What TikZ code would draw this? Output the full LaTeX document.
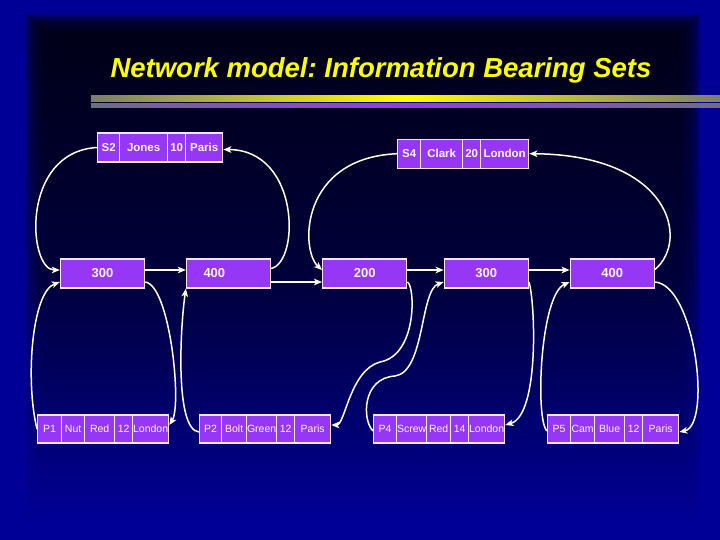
\documentclass[tikz,border=0pt]{standalone}
\usepackage{fontspec}
\setmainfont{Liberation Sans}
\usepackage{xcolor}
\usetikzlibrary{arrows.meta, positioning}

\definecolor{bgblue}{RGB}{0,0,150}
\definecolor{deepnavy}{RGB}{0,0,22}
\definecolor{midnavy}{RGB}{0,0,58}
\definecolor{cellfill}{RGB}{150,55,245}
\definecolor{cellline}{RGB}{255,228,255}
\definecolor{celltext}{RGB}{255,245,255}
\definecolor{linkcol}{RGB}{255,255,228}
\definecolor{titleyellow}{RGB}{255,255,0}
\definecolor{bargray}{RGB}{125,125,112}
\definecolor{barslate}{RGB}{110,110,130}
\definecolor{barviolet}{RGB}{145,60,235}

\tikzset{
  title/.style={anchor=base, text=titleyellow,
    font=\fontsize{27.5}{32}\selectfont\bfseries\itshape\frenchspacing},
  cell/.style={draw=cellline, fill=cellfill, line width=1.3pt, text=celltext,
    inner sep=0pt, anchor=west},
  ownercell/.style={cell, minimum height=29pt,
    font=\fontsize{11.5}{13}\selectfont\bfseries},
  partcell/.style={cell, minimum height=28pt,
    font=\fontsize{10.5}{12}\selectfont},
  setbox/.style={cell, anchor=center, minimum width=84pt, minimum height=29pt,
    font=\fontsize{13}{15}\selectfont\bfseries},
  link/.style={draw=linkcol, line width=1.5pt,
    -{Stealth[length=8pt, width=6.5pt, inset=2pt]}}
}

\begin{document}
\begin{tikzpicture}[x=1pt, y=-1pt]
  \useasboundingbox (0,0) rectangle (720,540);

  % ---- backdrop: blue frame, dark panel fading down ----
  \fill[bgblue] (0,0) rectangle (720,540);
  \foreach \d in {0,...,11}
    \shade[top color=deepnavy, bottom color=bgblue, middle color=midnavy,
           opacity=0.25]
      (25+2*\d,15+2*\d) rectangle (700-2*\d,525);

  % ---- heading and rule ----
  \node[title] (head) at (381,78) {Network model: Information Bearing Sets};
  \shade[left color=bargray, right color=bargray, middle color=titleyellow]
    (91,96) rectangle (720,101.5);
  \shade[left color=barslate, right color=barslate, middle color=barviolet]
    (91,104) rectangle (720,108);

  % ---- owner records (suppliers) ----
  \foreach \x/\w/\t [count=\i] in {97/22/S2, 119/48/Jones, 167/18/10, 185/37/Paris}
    \node[ownercell, minimum width=\w] (s2-\i) at (\x,147.5) {\t};
  \foreach \x/\w/\t [count=\i] in {397/23/S4, 420/42/Clark, 462/18/20, 480/48/London}
    \node[ownercell, minimum width=\w] (s4-\i) at (\x,153.7) {\t};

  % ---- set members (quantities) ----
  \node[setbox] (s2p1) at (102.5,273.5) {300};
  \node[setbox, text width=50pt, inner xsep=17pt, align=left] (s2p2) at (228.5,273.5) {400};
  \node[setbox] (s4p2) at (364.7,273.5) {200};
  \node[setbox] (s4p4) at (486.3,273.5) {300};
  \node[setbox] (s4p5) at (612.3,273.5) {400};

  % ---- part records ----
  \foreach \x/\w/\t [count=\i] in {37/24/P1, 61/23/Nut, 84/30/Red, 114/18/12, 132/36/London}
    \node[partcell, minimum width=\w] (p1-\i) at (\x,429) {\t};
  \foreach \x/\w/\t [count=\i] in {199/22/P2, 221/25/Bolt, 246/30/Green, 276/18/12, 294/36/Paris}
    \node[partcell, minimum width=\w] (p2-\i) at (\x,429) {\t};
  \foreach \x/\w/\t [count=\i] in {373/23/P4, 396/30/Screw, 426/24/Red, 450/18/14, 468/36/London}
    \node[partcell, minimum width=\w] (p4-\i) at (\x,429) {\t};
  \foreach \x/\w/\t [count=\i] in {547/23/P5, 570/24/Cam, 594/30/Blue, 624/18/12, 642/36/Paris}
    \node[partcell, minimum width=\w] (p5-\i) at (\x,429) {\t};

  % ---- S2 ring ----
  \draw[link] (s2-1.west) .. controls (20,152) and (28,270) .. ([yshift=3.5pt]s2p1.west);
  \draw[link] ([yshift=3.5pt]s2p1.east) -- ([yshift=3.5pt]s2p2.west);
  \draw[link] ([yshift=5pt]s2p2.east) .. controls (300,262) and (300,150) .. ([yshift=-2pt]s2-4.east);
  \draw[link] ([yshift=-8.5pt]s2p2.east) -- ([yshift=-8.5pt]s4p2.west);

  % ---- S4 ring ----
  \draw[link] (s4-1.west) .. controls (300,158) and (300,250) .. ([yshift=3.5pt]s4p2.west);
  \draw[link] ([yshift=3.5pt]s4p2.east) -- ([yshift=3.5pt]s4p4.west);
  \draw[link] ([yshift=3.5pt]s4p4.east) -- ([yshift=3.5pt]s4p5.west);
  \draw[link] ([yshift=4pt]s4p5.east) .. controls (690,240) and (670,155) .. (s4-4.east);

  % ---- part rings ----
  \draw[link] (p1-1.west) .. controls (25,380) and (32,292) .. ([yshift=-8.5pt]s2p1.west);
  \draw[link] ([yshift=-8.5pt]s2p1.east) .. controls (170,285) and (182,405) .. ([yshift=4pt]p1-5.east);
  \draw[link] ([yshift=-3pt]p2-1.west) .. controls (175,430) and (180,330) .. (s2p2.south west);
  \draw[link] ([yshift=-8.5pt]s4p2.east) .. controls (415,285) and (418,355) .. (380,362)
    .. controls (350,370) and (345,425) .. ([yshift=4pt]p2-5.east);
  \draw[link] ([yshift=-2pt]p4-1.west) .. controls (362,420) and (362,378) .. (395,376)
    .. controls (425,372) and (420,290) .. ([yshift=-8.5pt]s4p4.west);
  \draw[link] ([yshift=-8.5pt]s4p4.east) .. controls (535,300) and (540,415) .. ([yshift=4pt]p4-5.east);
  \draw[link] ([yshift=-2pt]p5-1.west) .. controls (535,420) and (540,295) .. ([yshift=-8.5pt]s4p5.west);
  \draw[link] ([yshift=-8.5pt]s4p5.east) .. controls (695,285) and (712,425) .. ([yshift=-3pt]p5-5.east);
\end{tikzpicture}
\end{document}
